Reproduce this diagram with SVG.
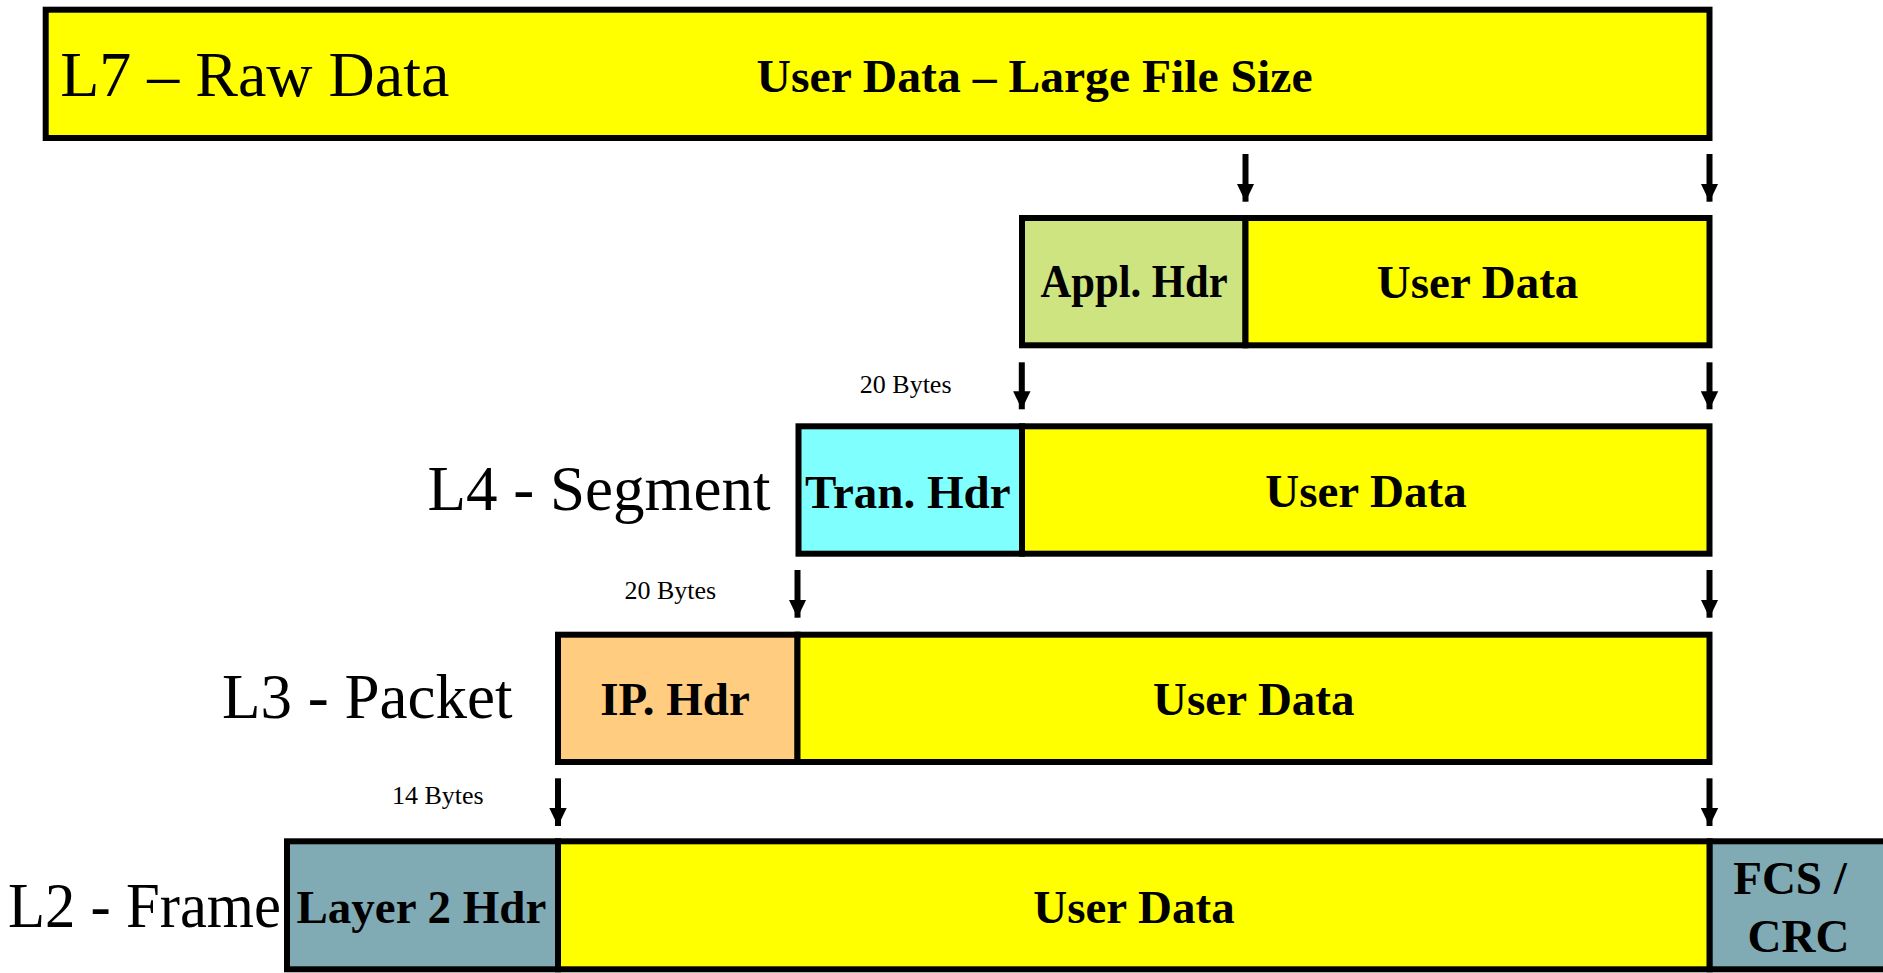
<svg xmlns="http://www.w3.org/2000/svg" width="1883" height="973" viewBox="0 0 1883 973">
  <defs>
    <marker id="head" markerUnits="userSpaceOnUse" markerWidth="18" markerHeight="18" refX="18" refY="9" orient="auto">
      <path d="M0,0.3 L18,9 L0,17.7 Z" fill="#000"/>
    </marker>
  </defs>
  <style>
    .box { stroke: #000; stroke-width: 6; }
    .data { fill: #FFFF00; }
    .appl { fill: #CDE481; }
    .tran { fill: #80FFFF; }
    .ip { fill: #FFCC80; }
    .l2 { fill: #80ABB5; }
    .bold { font-family: "Liberation Serif", "Times New Roman", serif; font-weight: bold; font-size: 47px; fill: #000; }
    .layer { font-family: "Liberation Serif", "Times New Roman", serif; font-size: 63px; fill: #000; }
    .bytes { font-family: "Liberation Serif", "Times New Roman", serif; font-size: 26px; fill: #000; }
    .arrow { stroke: #000; stroke-width: 6; fill: none; marker-end: url(#head); }
  </style>

  <!-- Layer 7: raw user data -->
  <g id="l7-raw">
    <rect class="box data" x="45.7" y="9.7" width="1663.8" height="128.3"/>
    <text class="layer" x="60.3" y="96" font-size="65" textLength="389" lengthAdjust="spacingAndGlyphs">L7 – Raw Data</text>
    <text class="bold" x="756.6" y="91.7" textLength="556" lengthAdjust="spacingAndGlyphs">User Data – Large File Size</text>
  </g>

  <!-- Application header + data -->
  <g id="appl">
    <rect class="box appl" x="1022" y="218" width="223.5" height="127.3"/>
    <rect class="box data" x="1245.5" y="218" width="464" height="127.3"/>
    <text class="bold" x="1040.6" y="296.7" font-size="42" textLength="187" lengthAdjust="spacingAndGlyphs">Appl. Hdr</text>
    <text class="bold" x="1477.6" y="298.3" text-anchor="middle">User Data</text>
  </g>

  <!-- Layer 4: segment -->
  <g id="l4-segment">
    <text class="layer" x="770.5" y="510" text-anchor="end">L4 - Segment</text>
    <text class="bytes" x="859.8" y="392.7">20 Bytes</text>
    <rect class="box tran" x="798.5" y="426.3" width="223.5" height="127.4"/>
    <rect class="box data" x="1022" y="426.3" width="687.5" height="127.4"/>
    <text class="bold" x="907.8" y="508.3" text-anchor="middle" font-size="46">Tran. Hdr</text>
    <text class="bold" x="1366" y="506.7" text-anchor="middle">User Data</text>
  </g>

  <!-- Layer 3: packet -->
  <g id="l3-packet">
    <text class="layer" x="512.5" y="718.3" text-anchor="end">L3 - Packet</text>
    <text class="bytes" x="624.5" y="599.3">20 Bytes</text>
    <rect class="box ip" x="558" y="634.7" width="239.5" height="127.3"/>
    <rect class="box data" x="797.5" y="634.7" width="912" height="127.3"/>
    <text class="bold" x="675" y="715" text-anchor="middle" font-size="45">IP. Hdr</text>
    <text class="bold" x="1253.8" y="715" text-anchor="middle">User Data</text>
  </g>

  <!-- Layer 2: frame -->
  <g id="l2-frame">
    <text class="layer" x="8" y="926.7" font-size="61" textLength="273" lengthAdjust="spacingAndGlyphs">L2 - Frame</text>
    <text class="bytes" x="392" y="804.3">14 Bytes</text>
    <rect class="box l2" x="287" y="841.3" width="271" height="128"/>
    <rect class="box data" x="558" y="841.3" width="1151.7" height="128"/>
    <rect class="box l2" x="1709.7" y="841.3" width="200" height="128"/>
    <text class="bold" x="421.4" y="923.3" text-anchor="middle">Layer 2 Hdr</text>
    <text class="bold" x="1134" y="923.3" text-anchor="middle">User Data</text>
    <text class="bold" x="1790" y="894.3" text-anchor="middle" font-size="46">FCS /</text>
    <text class="bold" x="1798.5" y="951.7" text-anchor="middle" font-size="46">CRC</text>
  </g>

  <!-- Encapsulation arrows between layers -->
  <g id="connectors">
    <line class="arrow" x1="1245.5" y1="154" x2="1245.5" y2="201.7"/>
    <line class="arrow" x1="1709.5" y1="154" x2="1709.5" y2="201.7"/>
    <line class="arrow" x1="1021.8" y1="362.3" x2="1021.8" y2="409.3"/>
    <line class="arrow" x1="1709.5" y1="362.3" x2="1709.5" y2="409.3"/>
    <line class="arrow" x1="797.5" y1="570" x2="797.5" y2="617.7"/>
    <line class="arrow" x1="1709.5" y1="570" x2="1709.5" y2="617.7"/>
    <line class="arrow" x1="558" y1="778.3" x2="558" y2="826"/>
    <line class="arrow" x1="1709.5" y1="778.3" x2="1709.5" y2="826"/>
  </g>
</svg>
